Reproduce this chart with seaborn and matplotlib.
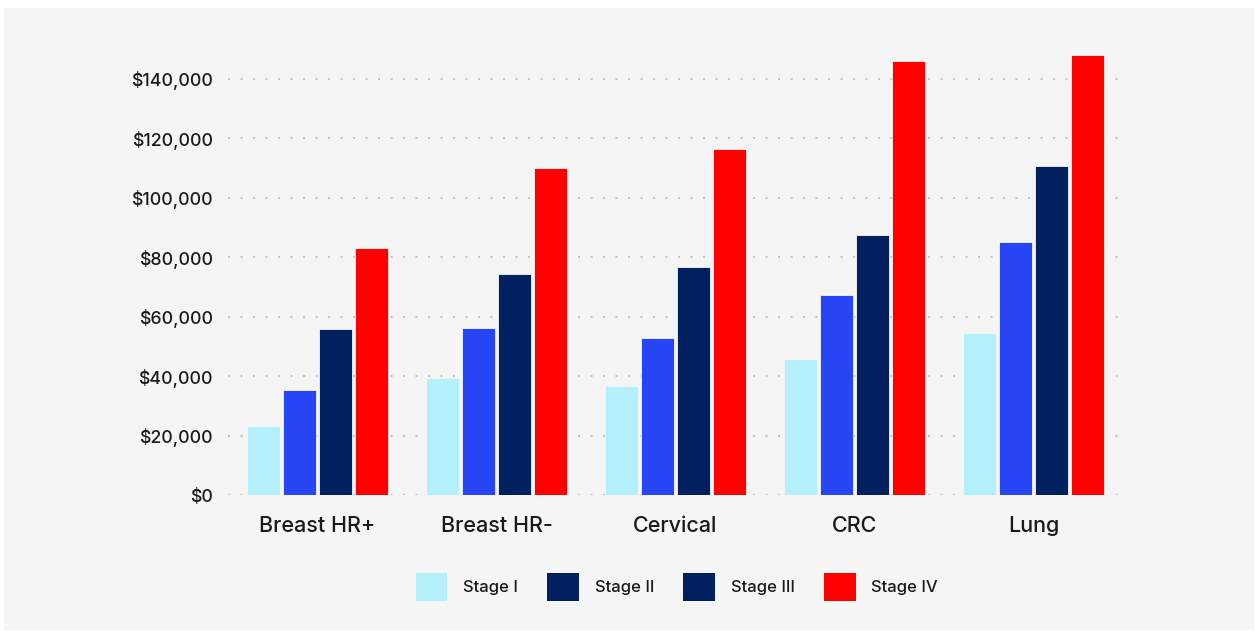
import matplotlib
matplotlib.use("Agg")
import matplotlib.pyplot as plt
from matplotlib.patches import Rectangle, Patch
from matplotlib.ticker import FuncFormatter
import pandas as pd
import seaborn as sns

# Cost of care by cancer type and stage at diagnosis
cancers = ["Breast HR+", "Breast HR-", "Cervical", "CRC", "Lung"]
stages = ["Stage I", "Stage II", "Stage III", "Stage IV"]
stage_i = [23300, 39200, 36500, 45700, 54600]
stage_ii = [35400, 56100, 52800, 67200, 85000]
stage_iii = [55800, 74200, 76700, 87300, 110600]
stage_iv = [83000, 109900, 116200, 146100, 148100]
y_ticks = [0, 20000, 40000, 60000, 80000, 100000, 120000, 140000]

bar_colors = ["#b3f0fb", "#2744f5", "#002060", "#ff0000"]
legend_colors = ["#b3f0fb", "#002060", "#002060", "#ff0000"]

rows = []
for stage, vals in zip(stages, [stage_i, stage_ii, stage_iii, stage_iv]):
    for cancer, v in zip(cancers, vals):
        rows.append({"cancer": cancer, "stage": stage, "cost": v})
df = pd.DataFrame(rows)

sns.set_theme(style="white")
plt.rcParams["font.family"] = ["Inter", "DejaVu Sans"]

fig = plt.figure(figsize=(12.59, 6.31), dpi=100, facecolor="white")
# light panel behind the chart
fig.patches.append(Rectangle((4 / 1259, 1 - 630 / 631), 1250 / 1259, 622 / 631,
                             transform=fig.transFigure, facecolor="#f5f5f5",
                             edgecolor="none", zorder=-10))

ax = fig.add_axes([228 / 1259, 1 - 495 / 631, 895 / 1259, 446 / 631])
ax.set_facecolor("none")

sns.barplot(data=df, x="cancer", y="cost", hue="stage", order=cancers,
            hue_order=stages, palette=bar_colors, width=0.8, gap=0.08,
            saturation=1, legend=False, ax=ax, zorder=3,
            edgecolor="#f5f5f5", linewidth=0.6)

ax.set_xlim(-0.5, 4.5)
ax.set_ylim(0, 150000)
ax.set_yticks(y_ticks)
ax.yaxis.set_major_formatter(FuncFormatter(lambda v, p: f"${v:,.0f}"))
ax.grid(axis="y", color="#c4c4c4", linestyle=(0, (1, 5)), linewidth=1.5, zorder=0)
ax.grid(axis="x", visible=False)
sns.despine(ax=ax, left=True, bottom=True)
ax.tick_params(axis="y", labelsize=12.8, labelcolor="#1a1a1a", pad=11, length=0)
ax.tick_params(axis="x", labelsize=15.5, labelcolor="#1a1a1a", pad=15, length=0)
for lbl in ax.get_yticklabels() + ax.get_xticklabels():
    lbl.set_fontweight("medium")
ax.set_xlabel("")
ax.set_ylabel("")

handles = [Patch(facecolor=c, edgecolor="none", label=s)
           for c, s in zip(legend_colors, stages)]
fig.legend(handles=handles, loc="center", bbox_to_anchor=(677 / 1259, 1 - 587 / 631),
           ncol=4, frameon=False, handlelength=1.9, handleheight=2.2,
           handletextpad=0.95, columnspacing=1.75, labelcolor="#1a1a1a",
           prop={"weight": "medium", "size": 12})

fig.savefig("out.png", dpi=100, facecolor="white")
